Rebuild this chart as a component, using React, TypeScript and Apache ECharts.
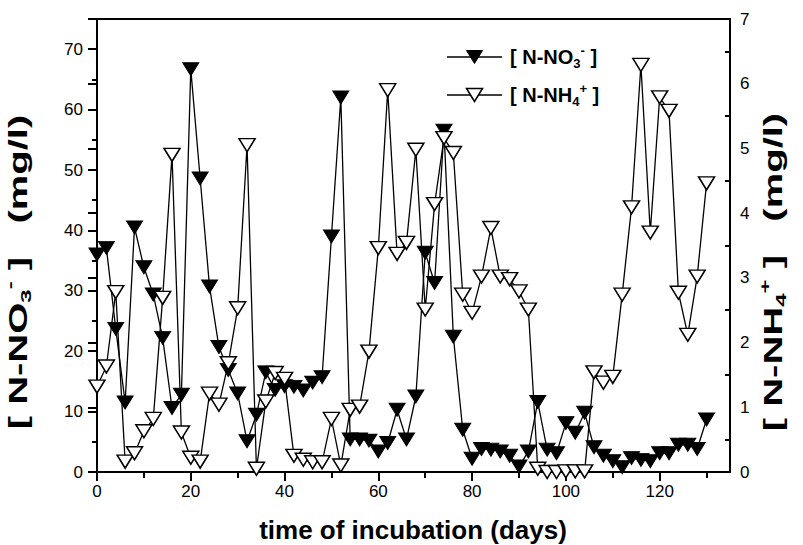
import React, { useEffect, useRef } from "react";
import * as echarts from "echarts";

// ---- data ----
const days = [
  0, 2, 4, 6, 8, 10, 12, 14, 16, 18, 20, 22, 24, 26, 28, 30, 32, 34, 36, 38, 40, 42, 44, 46, 48, 50,
  52, 54, 56, 58, 60, 62, 64, 66, 68, 70, 72, 74, 76, 78, 80, 82, 84, 86, 88, 90, 92, 94, 96, 98, 100,
  102, 104, 106, 108, 110, 112, 114, 116, 118, 120, 122, 124, 126, 128, 130,
];
const no3 = [
  36.0, 37.1, 23.7, 11.5, 40.5, 33.9, 29.4, 22.2, 10.6, 12.8, 66.7, 48.6, 30.7, 20.7, 16.9, 13.0, 5.1,
  9.5, 16.5, 13.6, 14.2, 14.1, 13.5, 14.8, 15.7, 39.0, 62.0, 5.4, 5.4, 5.2, 3.4, 4.8, 10.3, 5.4, 12.5,
  36.3, 31.3, 56.5, 22.4, 7.0, 2.2, 3.8, 3.7, 3.4, 2.7, 0.9, 3.4, 11.6, 3.7, 3.1, 8.1, 6.5, 9.8, 4.1,
  2.7, 1.8, 0.8, 2.3, 2.0, 1.8, 3.1, 3.1, 4.5, 4.5, 3.8, 8.7,
];
const nh4 = [
  1.32, 1.63, 2.78, 0.16, 0.29, 0.63, 0.82, 2.69, 4.9, 0.61, 0.22, 0.16, 1.21, 1.04, 1.68, 2.53, 5.05,
  0.05, 1.09, 1.53, 1.44, 0.25, 0.19, 0.15, 0.15, 0.82, 0.1, 0.96, 1.01, 1.86, 3.46, 5.9, 3.37, 3.54,
  4.98, 2.51, 4.14, 5.16, 4.93, 2.74, 2.46, 3.02, 3.77, 3.02, 2.98, 2.79, 2.51, 0.05, 0.0, 0.0, 0.01,
  0.01, 0.01, 1.54, 1.38, 1.47, 2.74, 4.09, 6.29, 3.7, 5.79, 5.58, 2.77, 2.12, 3.02, 4.46,
];

const xMajorTicks = [0, 20, 40, 60, 80, 100, 120];
const xMinorTicks = [10, 30, 50, 70, 90, 110, 130];
const leftMajorTicks = [0, 10, 20, 30, 40, 50, 60, 70];
const leftMinorTicks = [5, 15, 25, 35, 45, 55, 65, 75];
const rightMajorTicks = [0, 1, 2, 3, 4, 5, 6, 7];
const rightMinorTicks = [0.5, 1.5, 2.5, 3.5, 4.5, 5.5, 6.5];

const xTitle = "time of incubation (days)";
const no3Name = "[ N-NO3- ]";
const nh4Name = "[ N-NH4+ ]";

const FONT = '"Liberation Sans", Arial, Helvetica, sans-serif';

function richStyles(main: number, small: number) {
  return {
    a: { fontSize: main, fontWeight: "bold", fontFamily: FONT, color: "#000", lineHeight: main + 6, verticalAlign: "middle" },
    sup: { fontSize: small, fontWeight: "bold", fontFamily: FONT, color: "#000", lineHeight: small, verticalAlign: "top" },
    sub: { fontSize: small, fontWeight: "bold", fontFamily: FONT, color: "#000", lineHeight: small, verticalAlign: "bottom" },
  };
}

export default function App() {
  const ref = useRef<HTMLDivElement>(null);

  useEffect(() => {
    if (!ref.current) return;
    const chart = echarts.init(ref.current, undefined, { renderer: "svg" });

    const no3Data = days.map((d, i) => [d, no3[i]]);
    const nh4Data = days.map((d, i) => [d, nh4[i]]);

    const axisLine = { show: true, lineStyle: { color: "#000", width: 2 } };
    const labelStyle = { color: "#000", fontSize: 17, fontFamily: FONT };

    const option: any = {
      animation: false,
      backgroundColor: "#fff",
      grid: { left: 97, right: 73, top: 19, bottom: 73, show: true, borderColor: "#000", borderWidth: 2, backgroundColor: "transparent" },
      xAxis: [
        {
          type: "value", min: 0, max: 135, interval: 20, position: "bottom",
          axisLine,
          axisTick: { show: true, inside: false, length: 9, lineStyle: { width: 2, color: "#000" }, customValues: xMajorTicks },
          axisLabel: { ...labelStyle, margin: 11, customValues: xMajorTicks },
          splitLine: { show: false },
        },
        {
          type: "value", min: 0, max: 135, position: "bottom",
          axisLine: { show: false },
          axisTick: { show: true, inside: false, length: 6, lineStyle: { width: 2, color: "#000" }, customValues: xMinorTicks },
          axisLabel: { show: false },
          splitLine: { show: false },
        },
      ],
      yAxis: [
        {
          type: "value", min: 0, max: 75, interval: 10, position: "left",
          axisLine,
          axisTick: { show: true, inside: false, length: 9, lineStyle: { width: 2, color: "#000" }, customValues: leftMajorTicks },
          axisLabel: { ...labelStyle, margin: 14, customValues: leftMajorTicks },
          splitLine: { show: false },
        },
        {
          type: "value", min: 0, max: 7, interval: 1, position: "right",
          axisLine,
          axisTick: { show: true, inside: true, length: 9, lineStyle: { width: 2, color: "#000" }, customValues: rightMajorTicks },
          axisLabel: { ...labelStyle, margin: 10, customValues: rightMajorTicks },
          splitLine: { show: false },
        },
        {
          type: "value", min: 0, max: 75, position: "left",
          axisLine: { show: false },
          axisTick: { show: true, inside: false, length: 5, lineStyle: { width: 2, color: "#000" }, customValues: leftMinorTicks },
          axisLabel: { show: false },
          splitLine: { show: false },
        },
        {
          type: "value", min: 0, max: 7, position: "right",
          axisLine: { show: false },
          axisTick: { show: true, inside: true, length: 5, lineStyle: { width: 2, color: "#000" }, customValues: rightMinorTicks },
          axisLabel: { show: false },
          splitLine: { show: false },
        },
      ],
      series: [
        {
          name: no3Name, type: "line", xAxisIndex: 0, yAxisIndex: 0, data: no3Data,
          symbol: "triangle", symbolRotate: 180, symbolSize: [16, 13], showAllSymbol: true,
          lineStyle: { color: "#000", width: 1.3 },
          itemStyle: { color: "#000", borderColor: "#000", borderWidth: 1 },
          z: 3,
        },
        {
          name: nh4Name, type: "line", xAxisIndex: 0, yAxisIndex: 1, data: nh4Data,
          symbol: "triangle", symbolRotate: 180, symbolSize: [16, 13], showAllSymbol: true,
          lineStyle: { color: "#000", width: 1.3 },
          itemStyle: { color: "#fff", borderColor: "#000", borderWidth: 1.5 },
          z: 4,
        },
      ],
      graphic: [
        // legend
        { type: "line", shape: { x1: 447, y1: 57, x2: 502, y2: 57 }, style: { stroke: "#000", lineWidth: 1.3 }, z: 10 },
        { type: "polygon", shape: { points: [[466.5, 50.5], [482.5, 50.5], [474.5, 63.5]] }, style: { fill: "#000", stroke: "#000", lineWidth: 1 }, z: 11 },
        {
          type: "text", x: 510, y: 57, z: 11,
          style: { text: "{a|[ N-NO}{sub|3}{sup|-}{a| ]}", rich: richStyles(20, 13), align: "left", verticalAlign: "middle" },
        },
        { type: "line", shape: { x1: 447, y1: 95, x2: 502, y2: 95 }, style: { stroke: "#000", lineWidth: 1.3 }, z: 10 },
        { type: "polygon", shape: { points: [[466.5, 88.5], [482.5, 88.5], [474.5, 101.5]] }, style: { fill: "#fff", stroke: "#000", lineWidth: 1.5 }, z: 11 },
        {
          type: "text", x: 510, y: 95, z: 11,
          style: { text: "{a|[ N-NH}{sub|4}{sup|+}{a| ]}", rich: richStyles(20, 13), align: "left", verticalAlign: "middle" },
        },
        // axis titles
        {
          type: "text", x: 413, y: 530,
          style: { text: xTitle, fontSize: 26, fontWeight: "bold", fontFamily: FONT, fill: "#000", align: "center", verticalAlign: "middle" },
        },
        {
          type: "text", x: 18, y: 272, rotation: Math.PI / 2, scaleX: 1.6,
          style: { text: "{a|[ N-NO}{sub|3}{sup|-}{a| ]   (mg/l)}", rich: richStyles(25, 15), align: "center", verticalAlign: "middle" },
        },
        {
          type: "text", x: 773, y: 272, rotation: Math.PI / 2, scaleX: 1.6,
          style: { text: "{a|[ N-NH}{sub|4}{sup|+}{a| ]   (mg/l)}", rich: richStyles(25, 15), align: "center", verticalAlign: "middle" },
        },
      ],
    };

    chart.setOption(option);
    return () => chart.dispose();
  }, []);

  return <div ref={ref} style={{ position: "fixed", left: 0, top: 0, width: 803, height: 545, background: "#fff" }} />;
}
